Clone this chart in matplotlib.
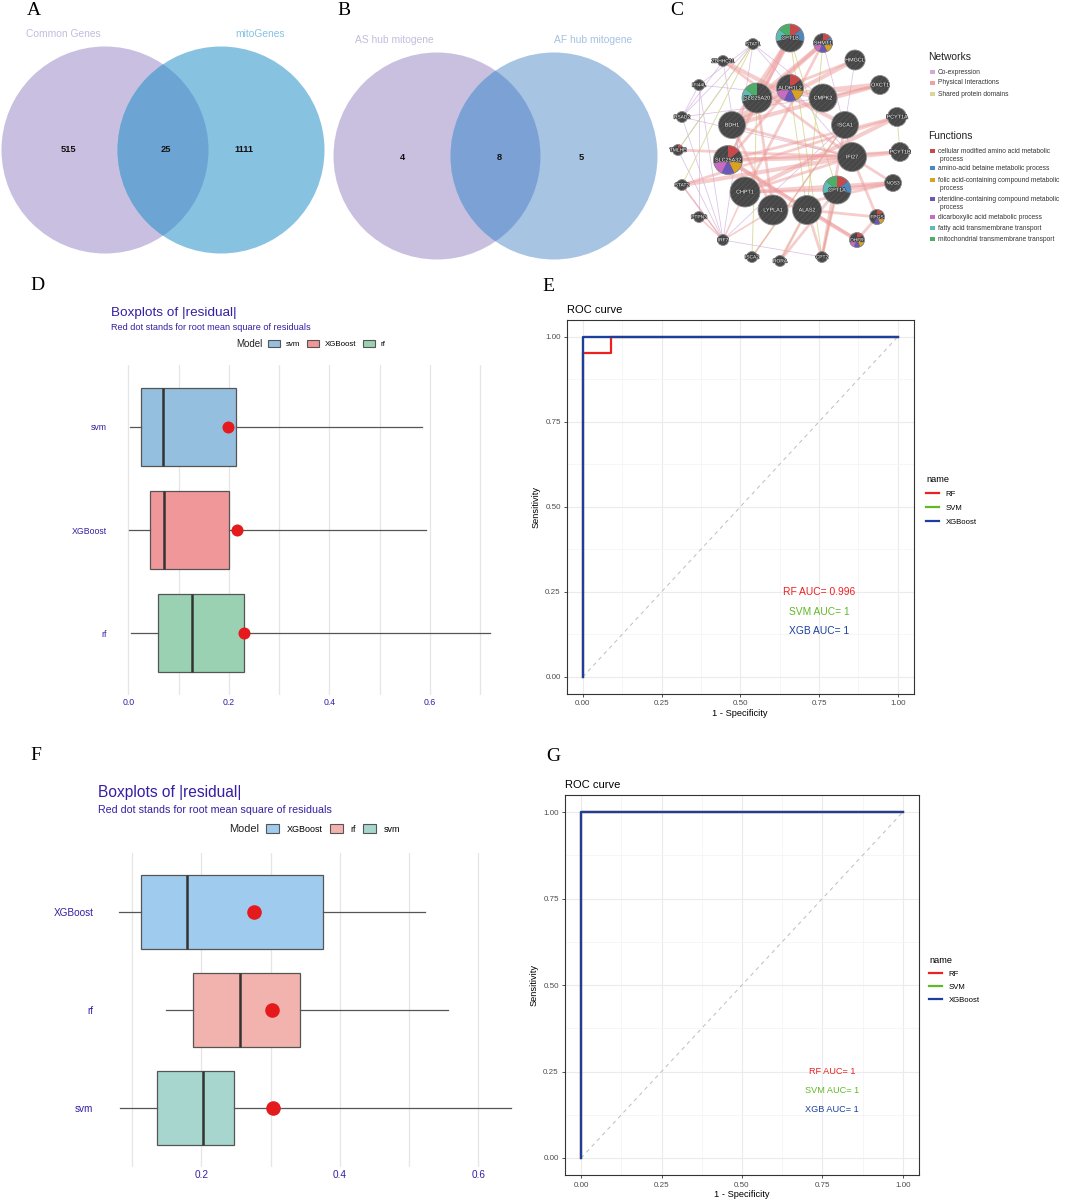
import matplotlib
matplotlib.use("Agg")
import matplotlib.pyplot as plt
import matplotlib.patches as mpatches
import matplotlib.patheffects as pe
from matplotlib.lines import Line2D

W, H = 1065, 1199
plt.rcParams["font.family"] = ["Liberation Sans", "DejaVu Sans"]
plt.rcParams["hatch.linewidth"] = 0.35

# ---------------- data ----------------
venn_a_sets = ["Common Genes", "mitoGenes"]
venn_a_counts = [515, 25, 1111]
venn_b_sets = ["AS hub mitogene", "AF hub mitogene"]
venn_b_counts = [4, 8, 5]

functions = [
    "cellular modified amino acid metabolic\n process",
    "amino-acid betaine metabolic process",
    "folic acid-containing compound metabolic\n process",
    "pteridine-containing compound metabolic\n process",
    "dicarboxylic acid metabolic process",
    "fatty acid transmembrane transport",
    "mitochondrial transmembrane transport",
]
function_colors = ["#C9484A", "#4A88C2", "#D9A321", "#6A58B6", "#C66CC2", "#5DBDB6", "#4CAE69"]
network_types = ["Co-expression", "Physical Interactions", "Shared protein domains"]
network_colors = ["#D2A9D9", "#F0A2A2", "#DCD59A"]

# node name, layout x, layout y, radius, function indices
net_nodes = [
    ("CPT1B", 130, 38, 14, [0, 1, 5, 6]),
    ("SHMT1", 163, 43, 9.5, [0, 1, 2, 3, 4]),
    ("STAT1", 93, 44, 5.5, []),
    ("ZDHHC21", 63, 61, 5.5, []),
    ("HMGCL", 195, 60, 10, []),
    ("IFI44L", 39, 85, 5.5, []),
    ("ALDH1L2", 130, 88, 13.5, [0, 2, 3, 4]),
    ("SLC25A20", 97, 98, 15, [5, 6]),
    ("CMPK2", 163, 98, 14, []),
    ("OXCT1", 220, 85, 9.5, []),
    ("RSAD2", 22, 117, 5.5, []),
    ("BDH1", 72, 125, 13.5, []),
    ("ISCA1", 185, 125, 13.5, []),
    ("PCYT1A", 237, 117, 9.5, []),
    ("TMLHE", 18, 150, 5.5, [0]),
    ("SLC25A32", 68, 160, 14.5, [0, 2, 3, 4]),
    ("IFI27", 192, 157, 14.5, []),
    ("PCYT1B", 240, 152, 9.5, []),
    ("STAT2", 22, 185, 5.5, []),
    ("CHPT1", 85, 192, 15, []),
    ("CPT1A", 177, 190, 14, [0, 1, 5, 6]),
    ("NOS3", 233, 183, 8.5, []),
    ("LYPLA1", 113, 210, 15, []),
    ("ALAS2", 147, 210, 14.5, []),
    ("PTPN3", 39, 217, 5.5, []),
    ("FPGS", 217, 217, 7.5, [0, 2, 3]),
    ("IRF7", 63, 240, 5.5, []),
    ("DHFR", 197, 240, 7.5, [0, 2, 3, 4]),
    ("ISCA2", 92, 257, 5.5, []),
    ("RORA", 120, 261, 5.5, []),
    ("CPT2", 162, 257, 5.5, []),
]

physical_edges = [
    ("CPT1B", "SLC25A20", 4), ("CPT1B", "BDH1", 3), ("CPT1B", "SLC25A32", 2),
    ("SHMT1", "SLC25A20", 3), ("SHMT1", "BDH1", 3), ("SHMT1", "CHPT1", 2),
    ("HMGCL", "BDH1", 3), ("HMGCL", "SLC25A20", 2),
    ("OXCT1", "SLC25A20", 4), ("OXCT1", "BDH1", 3), ("OXCT1", "CMPK2", 2),
    ("ZDHHC21", "ISCA1", 3), ("ZDHHC21", "IFI27", 2),
    ("ALDH1L2", "SLC25A32", 2), ("ALDH1L2", "BDH1", 2),
    ("PCYT1A", "CHPT1", 3), ("PCYT1A", "SLC25A32", 2), ("PCYT1A", "STAT2", 2),
    ("PCYT1B", "SLC25A32", 2), ("PCYT1B", "IFI27", 3),
    ("IFI27", "STAT2", 3), ("IFI27", "TMLHE", 2), ("IFI27", "SLC25A32", 3),
    ("IFI27", "BDH1", 2), ("IFI27", "CHPT1", 2),
    ("NOS3", "CHPT1", 3), ("NOS3", "CPT1A", 3), ("NOS3", "IFI27", 2), ("NOS3", "LYPLA1", 2),
    ("CPT1A", "CHPT1", 2), ("CPT1A", "RORA", 2),
    ("ALAS2", "SLC25A32", 3), ("ALAS2", "DHFR", 3), ("ALAS2", "FPGS", 2), ("ALAS2", "RORA", 2),
    ("FPGS", "DHFR", 2), ("FPGS", "IFI27", 2), ("DHFR", "SLC25A32", 2),
    ("CPT2", "ALAS2", 2), ("CPT2", "ISCA1", 2), ("CPT2", "CPT1A", 2),
    ("LYPLA1", "SLC25A20", 2), ("LYPLA1", "BDH1", 2),
    ("IRF7", "STAT2", 1.2), ("IRF7", "PTPN3", 1.2), ("IRF7", "LYPLA1", 1.2), ("IRF7", "CHPT1", 1.2),
    ("ISCA2", "ISCA1", 1.2),
]
coexp_edges = [
    ("STAT1", "IFI44L"), ("STAT1", "RSAD2"), ("STAT1", "IRF7"), ("STAT1", "TMLHE"),
    ("IFI44L", "RSAD2"), ("IFI44L", "IRF7"), ("IFI44L", "PTPN3"), ("RSAD2", "IRF7"),
    ("RSAD2", "CMPK2"), ("IFI44L", "CMPK2"), ("STAT1", "CMPK2"), ("STAT2", "IRF7"),
    ("TMLHE", "IRF7"), ("ZDHHC21", "RSAD2"), ("ZDHHC21", "CHPT1"), ("IRF7", "ISCA1"),
    ("CPT2", "CPT1A"), ("HMGCL", "ISCA1"), ("CMPK2", "ALDH1L2"), ("SHMT1", "IFI27"),
    ("RSAD2", "IFI27"), ("STAT1", "IFI27"), ("IRF7", "CPT2"),
]
domain_edges = [
    ("CPT1B", "CPT1A"), ("CPT1B", "CPT2"), ("CPT1A", "CPT2"), ("PCYT1A", "PCYT1B"),
    ("SLC25A20", "SLC25A32"), ("ISCA1", "ISCA2"), ("STAT1", "STAT2"), ("SHMT1", "ALAS2"),
    ("ALDH1L2", "ALAS2"), ("TMLHE", "STAT1"), ("ISCA2", "SLC25A20"), ("RORA", "ALAS2"),
]

# residual boxplots (panel D, panel F)
d_models = ["svm", "XGBoost", "rf"]
d_min = [0.003, 0.002, 0.005]
d_q1 = [0.025, 0.0435, 0.059]
d_med = [0.070, 0.071, 0.126]
d_q3 = [0.215, 0.200, 0.230]
d_max = [0.583, 0.592, 0.720]
d_rmse = [0.199, 0.216, 0.231]
d_colors = ["#94BFDF", "#F0979A", "#9AD1B2"]

f_models = ["XGBoost", "rf", "svm"]
f_min = [0.081, 0.149, 0.082]
f_q1 = [0.1125, 0.188, 0.136]
f_med = [0.180, 0.256, 0.203]
f_q3 = [0.376, 0.343, 0.247]
f_max = [0.523, 0.556, 0.647]
f_rmse = [0.2755, 0.302, 0.303]
f_colors = ["#9FCBEE", "#F2B2AD", "#A6D6CE"]

# ROC curves (panel E, panel G)
roc_names = ["RF", "SVM", "XGBoost"]
roc_short = ["RF", "SVM", "XGB"]
roc_colors = ["#EE2020", "#62B826", "#1C3F9F"]
e_fpr = [[0, 0, 0.091, 0.091, 1], [0, 0, 1], [0, 0, 1]]
e_tpr = [[0, 0.953, 0.953, 1, 1], [0, 1, 1], [0, 1, 1]]
e_auc = ["0.996", "1", "1"]
g_fpr = [[0, 0, 1], [0, 0, 1], [0, 0, 1]]
g_tpr = [[0, 1, 1], [0, 1, 1], [0, 1, 1]]
g_auc = ["1", "1", "1"]

DALEX = "#371ea3"

fig = plt.figure(figsize=(W / 100, H / 100), dpi=100)


def ax_px(x0, y0, x1, y1):
    return fig.add_axes([x0 / W, 1 - y1 / H, (x1 - x0) / W, (y1 - y0) / H])


def ftext(x, y, s, **kw):
    return fig.text(x / W, 1 - y / H, s, **kw)


def letter(x, y, s):
    ftext(x, y, s, family="Liberation Serif", fontsize=14, ha="left", va="top")


# ---------------- A / B : Venn ----------------
ax = ax_px(0, 0, 660, 270)
ax.set_xlim(0, 660)
ax.set_ylim(270, 0)
ax.axis("off")


def venn(ax, c1, c2, r, cols, sets, counts, set_pos, count_pos, set_cols):
    left = mpatches.Circle(c1, r, facecolor=cols[0], edgecolor="none")
    right = mpatches.Circle(c2, r, facecolor=cols[1], edgecolor="none")
    ax.add_patch(left)
    ax.add_patch(right)
    lens = mpatches.Circle(c2, r, facecolor=cols[2], edgecolor="none")
    ax.add_patch(lens)
    lens.set_clip_path(left)
    for s, p, c in zip(sets, set_pos, set_cols):
        ax.text(p[0], p[1], s, color=c, fontsize=7.4, ha="center", va="center")
    for n, p in zip(counts, count_pos):
        ax.text(p[0], p[1], str(n), fontsize=6.7, fontweight="bold", ha="center", va="center", color="#111111")


venn(ax, (105, 150), (221, 150), 103.5, ["#C9BFE0", "#88C2E1", "#6CA4D4"],
     venn_a_sets, venn_a_counts, [(63, 34), (260, 34)], [(68, 150), (166, 150), (244, 150)],
     ["#C5BBDD", "#85C3E3"])
venn(ax, (437, 156), (554, 156), 103.5, ["#C9BFDF", "#A7C4E3", "#7CA2D5"],
     venn_b_sets, venn_b_counts, [(394, 40), (593, 40)], [(402, 157), (499, 157), (581, 157)],
     ["#C5BCDD", "#A4C2E2"])
letter(27, 2, "A")
letter(337, 2, "B")

# ---------------- C : network ----------------
axc = ax_px(660, 0, 1065, 270)
axc.set_xlim(0, 405)
axc.set_ylim(270, 0)
axc.axis("off")
pos = {n[0]: (n[1], n[2]) for n in net_nodes}


def edge(a, b, color, lw, alpha):
    (x1, y1), (x2, y2) = pos[a], pos[b]
    axc.plot([x1, x2], [y1, y2], color=color, lw=lw, alpha=alpha, solid_capstyle="butt", zorder=1)


for a, b in coexp_edges:
    edge(a, b, "#CDA8DA", 0.55, 0.7)
for a, b in domain_edges:
    edge(a, b, "#D4D68E", 0.7, 0.8)
for a, b, w in physical_edges:
    edge(a, b, "#EE9C9C", w, 0.5)

sector = 360 / len(functions)
for name, x, y, r, funcs in net_nodes:
    axc.add_patch(mpatches.Circle((x, y), r, facecolor="#474747", edgecolor="#5E5E5E",
                                  hatch="//////", lw=0, zorder=3))
    for i in funcs:
        a2 = 90 - sector * i
        a1 = a2 - sector
        axc.add_patch(mpatches.Wedge((x, y), r, -a2, -a1, facecolor=function_colors[i],
                                     edgecolor="none", zorder=4))
    axc.add_patch(mpatches.Circle((x, y), r, facecolor="none", edgecolor="#8E8E8E", lw=0.6, zorder=4))
    axc.text(x, y, name, color="white", fontsize=3.9 if r > 9 else 3.5, ha="center", va="center",
             zorder=5, path_effects=[pe.withStroke(linewidth=1.0, foreground="#3A3A3A")])

axc.text(268, 57, "Networks", fontsize=7.4, color="#222222", ha="left", va="center")
for k, (lab, col) in enumerate(zip(network_types, network_colors)):
    yy = 72 + 11 * k
    axc.add_patch(mpatches.Rectangle((270, yy - 2.3), 4.6, 4.6, facecolor=col, edgecolor="none"))
    axc.text(278, yy, lab, fontsize=4.8, color="#333333", ha="left", va="center")
axc.text(268, 136, "Functions", fontsize=7.4, color="#222222", ha="left", va="center")
func_y = [151, 168, 180, 199, 217, 228, 239]
for lab, col, yy in zip(functions, function_colors, func_y):
    axc.add_patch(mpatches.Rectangle((270, yy - 2.3), 4.6, 4.6, facecolor=col, edgecolor="none"))
    axc.text(278, yy - 2.8, lab, fontsize=4.8, color="#333333", ha="left", va="top", linespacing=1.1)
letter(670, 2, "C")


# ---------------- D / F : residual boxplots ----------------
def residual_box(box_px, models, lo, q1, med, q3, hi, rmse, colors, major, minor,
                 fs_tick, pad_y, dot_s):
    ax = ax_px(*box_px)
    stats = [dict(whislo=a, q1=b, med=c, q3=d, whishi=e, fliers=[])
             for a, b, c, d, e in zip(lo, q1, med, q3, hi)]
    ypos = list(range(1, len(models) + 1))
    bp = ax.bxp(stats, positions=ypos, widths=0.75, orientation="horizontal", patch_artist=True,
                showcaps=False,
                boxprops=dict(edgecolor="#555555", linewidth=0.9),
                whiskerprops=dict(color="#555555", linewidth=0.9),
                medianprops=dict(color="#333333", linewidth=1.8))
    for patch, col in zip(bp["boxes"], colors):
        patch.set_facecolor(col)
    ax.scatter(rmse, ypos, s=dot_s, color="#E41A1C", zorder=5, linewidths=0)
    span = max(hi) - min(lo)
    ax.set_xlim(min(lo) - 0.05 * span, max(hi) + 0.05 * span)
    ax.set_ylim(len(models) + 0.6, 0.4)
    ax.set_xticks(major)
    ax.set_xticks(minor, minor=True)
    ax.set_yticks(ypos, models)
    ax.grid(axis="x", which="both", color="#E6E6E6", lw=0.9)
    ax.set_axisbelow(True)
    ax.tick_params(which="both", length=0, labelsize=fs_tick, labelcolor=DALEX)
    ax.tick_params(axis="y", pad=pad_y)
    ax.tick_params(axis="x", pad=2)
    for s in ax.spines.values():
        s.set_visible(False)
    ax.set_facecolor("none")
    return ax


residual_box((111.2, 365, 508.5, 695), d_models, d_min, d_q1, d_med, d_q3, d_max, d_rmse,
             d_colors, [0, 0.2, 0.4, 0.6], [0.1, 0.3, 0.5, 0.7], 6.3, 3, 75)
ftext(111, 313, "Boxplots of |residual|", fontsize=9.7, color=DALEX, va="center")
ftext(111, 327, "Red dot stands for root mean square of residuals", fontsize=6.6, color=DALEX, va="center")
ftext(236, 344, "Model", fontsize=7.0, color="#222222", va="center")
fig.legend([mpatches.Patch(facecolor=c, edgecolor="#555555", lw=0.8) for c in d_colors], d_models,
           loc="center left", bbox_to_anchor=(268 / W, 1 - 344 / H), ncol=3, frameon=False,
           fontsize=5.7, handlelength=1.5, handleheight=1.0, handletextpad=0.7, columnspacing=0.9,
           borderpad=0, borderaxespad=0)
letter(30, 277, "D")

residual_box((99.3, 853, 530.4, 1167), f_models, f_min, f_q1, f_med, f_q3, f_max, f_rmse,
             f_colors, [0.2, 0.4, 0.6], [0.1, 0.3, 0.5], 7.2, 4.3, 110)
ftext(98, 793, "Boxplots of |residual|", fontsize=11.2, color=DALEX, va="center")
ftext(98, 810, "Red dot stands for root mean square of residuals", fontsize=7.7, color=DALEX, va="center")
ftext(229, 829, "Model", fontsize=7.9, color="#222222", va="center")
fig.legend([mpatches.Patch(facecolor=c, edgecolor="#555555", lw=0.8) for c in f_colors], f_models,
           loc="center left", bbox_to_anchor=(266 / W, 1 - 829 / H), ncol=3, frameon=False,
           fontsize=6.5, handlelength=1.4, handleheight=1.0, handletextpad=0.9, columnspacing=0.8,
           borderpad=0, borderaxespad=0)
letter(30, 747, "F")


# ---------------- E / G : ROC ----------------
def roc_panel(box_px, fprs, tprs, aucs, auc_x, auc_y, fs_auc, leg_xy, leg_sp):
    ax = ax_px(*box_px)
    ax.plot([0, 1], [0, 1], ls=(0, (4, 4)), color="#BDBDBD", lw=0.7, zorder=2)
    handles = []
    for fpr, tpr, col in zip(fprs, tprs, roc_colors):
        ax.plot(fpr, tpr, color=col, lw=1.6, zorder=3)
        handles.append(Line2D([], [], color=col, lw=1.6))
    for k, (nm, a, col) in enumerate(zip(roc_short, aucs, roc_colors)):
        ax.text(auc_x, auc_y[k], f"{nm} AUC= {a}", color=col, fontsize=fs_auc, ha="center", va="center")
    ax.set_xlim(-0.05, 1.05)
    ax.set_ylim(-0.05, 1.05)
    ticks = [0, 0.25, 0.5, 0.75, 1]
    ax.set_xticks(ticks, ["0.00", "0.25", "0.50", "0.75", "1.00"])
    ax.set_yticks(ticks, ["0.00", "0.25", "0.50", "0.75", "1.00"])
    ax.set_xticks([0.125, 0.375, 0.625, 0.875], minor=True)
    ax.set_yticks([0.125, 0.375, 0.625, 0.875], minor=True)
    ax.grid(which="major", color="#EBEBEB", lw=0.8)
    ax.grid(which="minor", color="#F3F3F3", lw=0.5)
    ax.set_axisbelow(True)
    ax.tick_params(which="major", length=2.5, width=0.6, color="#333333", labelsize=5.8,
                   labelcolor="#4D4D4D", pad=2)
    ax.tick_params(which="minor", length=0)
    for s in ax.spines.values():
        s.set_color("#333333")
        s.set_linewidth(0.8)
    ax.set_xlabel("1 - Specificity", fontsize=6.7, labelpad=1)
    ax.set_ylabel("Sensitivity", fontsize=6.7, labelpad=3)
    ax.set_title("ROC curve", fontsize=8, loc="left", pad=5)
    ax.legend(handles, roc_names, title="name", loc="upper left",
              bbox_to_anchor=(leg_xy[0] / W, 1 - leg_xy[1] / H), bbox_transform=fig.transFigure,
              frameon=False, fontsize=5.6, title_fontsize=6.7, handlelength=1.7,
              handletextpad=0.8, labelspacing=leg_sp, borderpad=0, borderaxespad=0,
              alignment="left")
    return ax


roc_panel((567, 319.7, 913.5, 694), e_fpr, e_tpr, e_auc, 0.75, [0.25, 0.19, 0.135], 7.4,
          (926, 475), 0.85)
letter(542, 278, "E")
roc_panel((565, 794.7, 919, 1175.3), g_fpr, g_tpr, g_auc, 0.78, [0.25, 0.195, 0.14], 6.6,
          (929, 956), 0.7)
letter(546, 748, "G")

fig.savefig("out.png", dpi=100, facecolor="white")
